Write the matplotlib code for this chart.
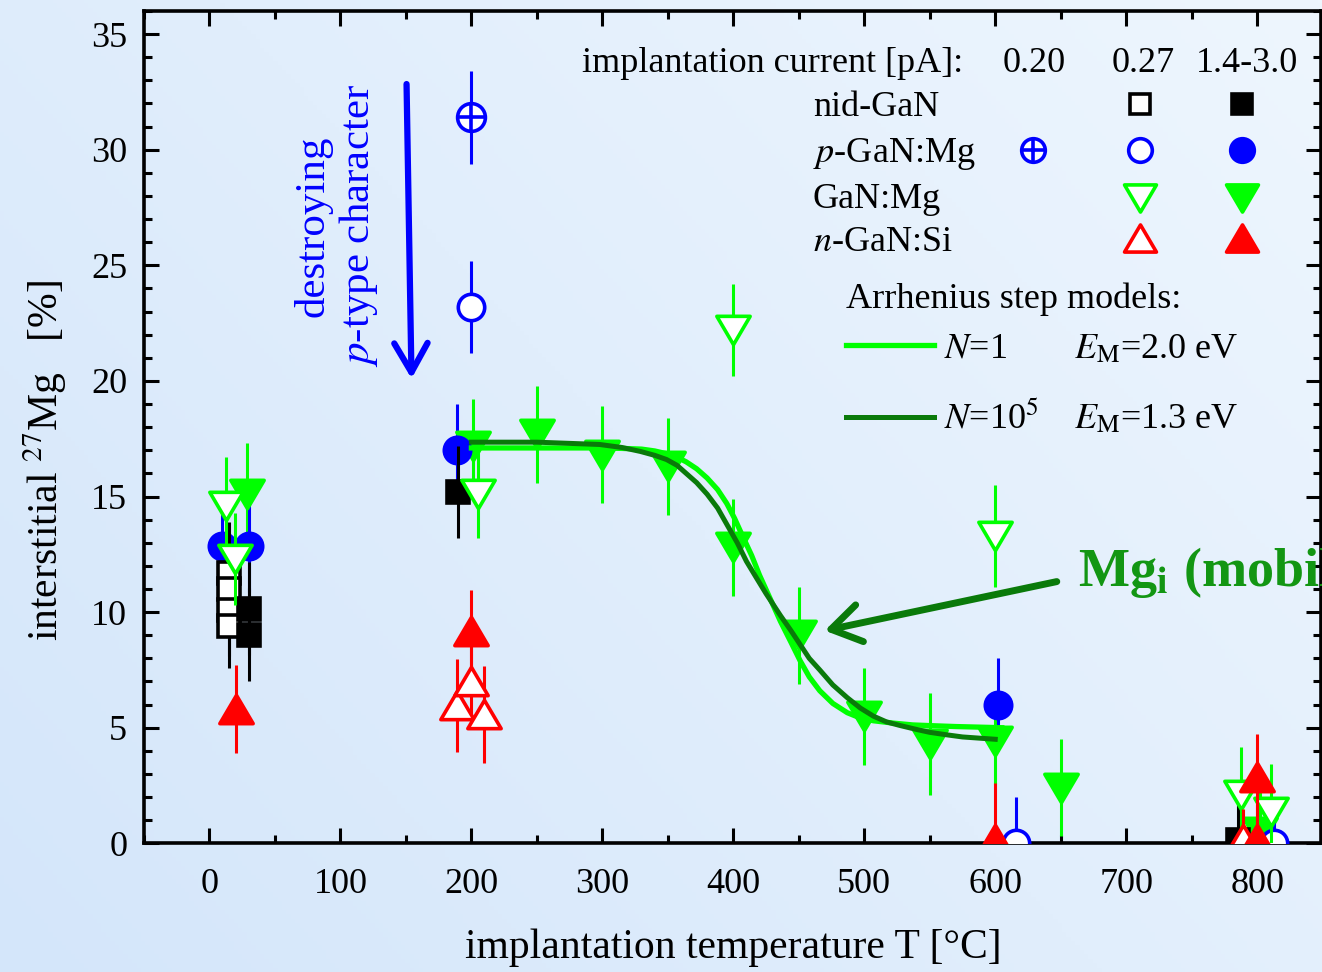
import numpy as np
import matplotlib.pyplot as plt
from matplotlib.lines import Line2D
from matplotlib.path import Path
from matplotlib.ticker import MultipleLocator

plt.rcParams['font.family'] = ['Liberation Serif', 'DejaVu Serif']
plt.rcParams['mathtext.fontset'] = 'stix'

# nid-GaN (black squares)
nid_open_x = [15, 15, 15, 15]
nid_open_y = [11.7, 11.0, 10.1, 9.4]
nid_open_err = [2.2, 2.0, 2.0, 1.8]
nid_fill_x = [30, 30, 190, 785]
nid_fill_y = [10.15, 9.03, 15.19, 0.15]
nid_fill_err = [2.0, 2.0, 2.0, 1.9]

# p-GaN:Mg (blue circles)
pgan_020_x = [200]
pgan_020_y = [31.4]
pgan_020_err = [2.0]
pgan_open_x = [200, 616, 813]
pgan_open_y = [23.2, 0.0, 0.0]
pgan_open_err = [2.0, 2.0, 2.0]
pgan_fill_x = [9.5, 30.5, 189, 602]
pgan_fill_y = [12.85, 12.85, 17.0, 6.0]
pgan_fill_err = [2.0, 2.0, 2.0, 2.0]

# GaN:Mg (green down triangles)
ganmg_open_x = [12.7, 19.6, 204.7, 400, 600, 788, 810.6]
ganmg_open_y = [14.6, 12.3, 15.1, 22.2, 13.3, 2.07, 1.35]
ganmg_open_err = [2.1, 2.0, 1.9, 2.0, 2.2, 2.1, 2.1]
ganmg_fill_x = [29, 201, 250, 300, 350, 400, 450, 500, 550, 600, 650, 802]
ganmg_fill_y = [15.1, 17.2, 17.7, 16.8, 16.3, 12.8, 9.0, 5.5, 4.3, 4.42, 2.4, 0.5]
ganmg_fill_err = [2.2, 2.0, 2.1, 2.1, 2.1, 2.1, 2.1, 2.1, 2.2, 1.85, 2.1, 1.8]

# n-GaN:Si (red up triangles)
ngan_open_x = [188.7, 200, 210, 789]
ngan_open_y = [5.97, 7.0, 5.58, 0.2]
ngan_open_err = [2.0, 1.9, 2.1, 1.3]
ngan_fill_x = [20, 200, 600, 800, 800]
ngan_fill_y = [5.8, 9.17, 0.2, 2.87, 0.2]
ngan_fill_err = [1.9, 1.8, 2.4, 1.85, 1.5]

# Arrhenius step models
n1_x = [200, 250, 298, 315, 330, 340, 349, 357, 364, 372, 380, 388, 395, 401, 407, 414,
        420, 428, 436, 444, 451, 458, 466, 476, 487, 497, 507, 522, 537, 555, 570, 605]
n1_y = [17.1, 17.1, 17.1, 17.08, 17.05, 16.97, 16.85, 16.7, 16.5, 16.2, 15.8, 15.3, 14.7,
        14.05, 13.3, 12.45, 11.6, 10.6, 9.6, 8.7, 7.9, 7.2, 6.6, 6.05, 5.65, 5.42, 5.3,
        5.2, 5.12, 5.08, 5.05, 5.0]
n5_x = [200, 250, 298, 315, 329, 340, 349, 357, 364, 372, 380, 388, 395, 403, 410, 418,
        425, 436, 444, 451, 458, 466, 476, 487, 497, 507, 517, 527, 538, 550, 562, 575, 600]
n5_y = [17.35, 17.35, 17.25, 17.12, 16.95, 16.78, 16.6, 16.35, 16.0, 15.6, 15.1, 14.5,
        13.8, 13.0, 12.2, 11.45, 10.8, 9.85, 9.2, 8.6, 8.0, 7.5, 6.85, 6.3, 5.85, 5.5,
        5.25, 5.1, 4.95, 4.8, 4.7, 4.6, 4.5]

BLUE = '#0000ff'
RED = '#ff0000'
GREEN = '#00ff00'
DKGREEN = '#0a7a0a'

tri_down = Path([(-1, 0.85), (1, 0.85), (0, -0.85), (-1, 0.85)], closed=True)
tri_up = Path([(-1, -0.85), (1, -0.85), (0, 0.85), (-1, -0.85)], closed=True)

fig = plt.figure(figsize=(13.22, 9.72), dpi=100)

# light blue gradient background
bg = fig.add_axes([0, 0, 1, 1], zorder=-10)
u, v = np.meshgrid(np.linspace(0, 1, 300), np.linspace(1, 0, 220))
t = np.clip(0.6 * u + 0.4 * v, 0, 1)[..., None]
c0 = np.array([212, 230, 250]) / 255
c1 = np.array([238, 246, 254]) / 255
bg.imshow(c0 + t * (c1 - c0), aspect='auto', extent=[0, 1, 0, 1])
bg.axis('off')

ax = fig.add_axes([0.1089, 0.1324, 0.8903, 0.8563])
ax.set_facecolor('none')


def series(x, y, err, marker, ms, color, filled, z):
    ax.errorbar(x, y, yerr=err, fmt='none', ecolor=color, elinewidth=2.2, capsize=0, zorder=z)
    ax.plot(x, y, ls='none', marker=marker, ms=ms, mec=color,
            mfc=color if filled else 'white', mew=2.6, zorder=z + 0.5)


series(ganmg_fill_x, ganmg_fill_y, ganmg_fill_err, tri_down, 24, GREEN, True, 2)
series(nid_open_x, nid_open_y, nid_open_err, 's', 16, 'black', False, 3)
series(nid_fill_x, nid_fill_y, nid_fill_err, 's', 16, 'black', True, 3)
series(pgan_fill_x, pgan_fill_y, pgan_fill_err, 'o', 19, BLUE, True, 2.2)
series(pgan_open_x, pgan_open_y, pgan_open_err, 'o', 19, BLUE, False, 4)
series(pgan_020_x, pgan_020_y, pgan_020_err, 'o', 20, BLUE, False, 4)
ax.plot(pgan_020_x, pgan_020_y, ls='none', marker='+', ms=20, mew=2.6, mec=BLUE, zorder=4.6)
series(ganmg_open_x, ganmg_open_y, ganmg_open_err, tri_down, 24, GREEN, False, 5)
series(ngan_open_x, ngan_open_y, ngan_open_err, tri_up, 24, RED, False, 6)
series(ngan_fill_x, ngan_fill_y, ngan_fill_err, tri_up, 24, RED, True, 6)

ax.plot(n1_x, n1_y, color=GREEN, lw=3.8, zorder=8, solid_joinstyle='round')
ax.plot(n5_x, n5_y, color=DKGREEN, lw=3.6, zorder=8.5, solid_joinstyle='round')

ax.set_xlim(-50, 848.7)
ax.set_ylim(0, 36)
ax.set_xticks(range(0, 801, 100))
ax.set_yticks(range(0, 36, 5))
ax.xaxis.set_minor_locator(MultipleLocator(50))
ax.yaxis.set_minor_locator(MultipleLocator(1))
ax.tick_params(which='both', direction='in', top=True, right=True, width=2.2, labelsize=26)
ax.tick_params(which='major', length=11)
ax.tick_params(which='minor', length=6)
ax.tick_params(axis='x', which='major', pad=18)
ax.tick_params(axis='y', which='major', pad=12)
for sp in ax.spines.values():
    sp.set_linewidth(2.6)

fig.text(733 / 1322, 1 - 958 / 972, 'implantation temperature T [°C]', fontsize=30,
         ha='center', va='baseline')
fig.text(45 / 1322, 1 - 460 / 972, 'interstitial $^{27}$Mg   [%]', fontsize=30,
         rotation=90, ha='center', va='center')

# annotations
ax.text(97, 26.7, 'destroying\n$p$-type character', rotation=90, fontsize=31, color=BLUE,
        ha='center', va='center', multialignment='center', linespacing=1.15, zorder=9)
ax.annotate('', xy=(154.3, 20.1), xytext=(150.5, 32.84),
            arrowprops=dict(arrowstyle='->,head_length=0.7,head_width=0.4', color=BLUE,
                            lw=4.5, mutation_scale=30, shrinkA=0, shrinkB=0), zorder=9)
ax.annotate('', xy=(469.8, 9.2), xytext=(647, 11.32),
            arrowprops=dict(arrowstyle='->,head_length=0.7,head_width=0.45', color=DKGREEN,
                            lw=5, mutation_scale=30, shrinkA=0, shrinkB=0), zorder=9)
# the reference figure itself crops this label at the right edge
ax.text(663, 11.15, r'Mg$_{\mathbf{i}}$ (mobile)', fontsize=39, fontweight='bold',
        color='#139613', ha='left', va='baseline', clip_on=False, zorder=9)


# legend block, placed in figure pixels
def fx(px):
    return px / 1322


def fy(py):
    return 1 - py / 972


def leg_text(px, py, s, **kw):
    fig.text(fx(px), fy(py), s, fontsize=26, va='baseline', **kw)


def leg_marker(px, py, marker, ms, color, filled):
    fig.add_artist(Line2D([fx(px)], [fy(py)], marker=marker, ms=ms, mec=color,
                          mfc=color if filled else 'white', mew=2.6, ls='none',
                          transform=fig.transFigure))


leg_text(582, 72, 'implantation current [pA]:')
leg_text(1034, 72, '0.20', ha='center')
leg_text(1143, 72, '0.27', ha='center')
leg_text(1247, 72, '1.4-3.0', ha='center')

col_020, col_027, col_hi = 1033, 1140, 1242
leg_text(813, 116, 'nid-GaN')
leg_marker(col_027, 104, 's', 14, 'black', False)
leg_marker(col_hi, 104, 's', 14, 'black', True)
leg_text(813, 162, '$p$-GaN:Mg')
leg_marker(col_020, 150, 'o', 17, BLUE, False)
leg_marker(col_020, 150, '+', 17, BLUE, False)
leg_marker(col_027, 150, 'o', 17, BLUE, False)
leg_marker(col_hi, 150, 'o', 17, BLUE, True)
leg_text(813, 208, 'GaN:Mg')
leg_marker(col_027, 198, tri_down, 23, GREEN, False)
leg_marker(col_hi, 198, tri_down, 23, GREEN, True)
leg_text(813, 251, '$n$-GaN:Si')
leg_marker(col_027, 238, tri_up, 23, RED, False)
leg_marker(col_hi, 238, tri_up, 23, RED, True)

leg_text(846, 308, 'Arrhenius step models:')
fig.add_artist(Line2D([fx(846), fx(934)], [fy(345), fy(345)], color=GREEN, lw=3.8,
                      transform=fig.transFigure))
leg_text(944, 358, '$N$=1')
leg_text(1074, 358, r'$E_{\mathrm{M}}$=2.0 eV')
fig.add_artist(Line2D([fx(846), fx(934)], [fy(417), fy(417)], color=DKGREEN, lw=3.6,
                      transform=fig.transFigure))
leg_text(944, 428, '$N$=10$^5$')
leg_text(1074, 428, r'$E_{\mathrm{M}}$=1.3 eV')

fig.savefig('out.png', dpi=100)
